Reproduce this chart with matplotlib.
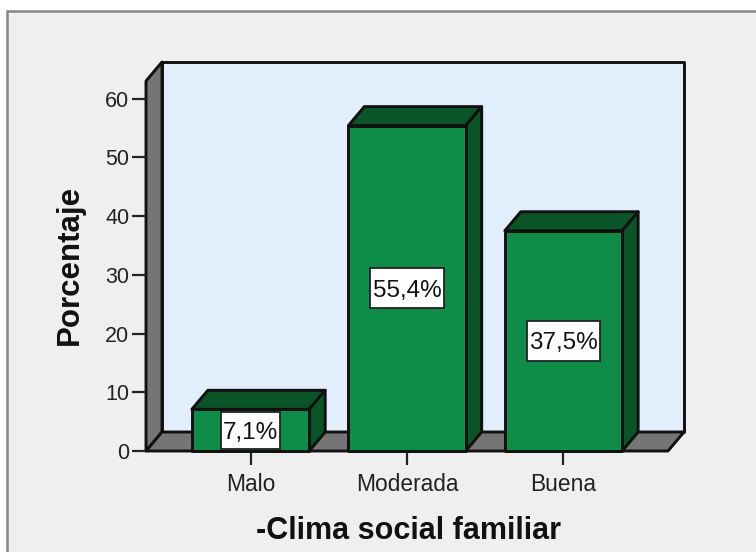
import matplotlib
matplotlib.use("Agg")
import matplotlib.pyplot as plt
from matplotlib.patches import Polygon, Rectangle

# values
categories = ["Malo", "Moderada", "Buena"]
percentages = [7.1, 55.4, 37.5]
bar_labels = ["7,1%", "55,4%", "37,5%"]
y_ticks = [0, 10, 20, 30, 40, 50, 60]

# colours
PAGE = "#EFEFEF"
WALL = "#E2EEFB"
GREY = "#757575"
FRONT = "#0F8C48"
SHADE = "#0A5528"
EDGE = "#101010"

plt.rcParams["font.family"] = ["Liberation Sans", "DejaVu Sans"]

W, H = 756, 552
fig = plt.figure(figsize=(W / 100, H / 100), dpi=100, facecolor="white")

# outer frame runs off the right and bottom of the picture
fig.add_artist(Rectangle((7 / W, -0.05), 1.05, 1.05 - 11 / H, transform=fig.transFigure,
                         facecolor=PAGE, edgecolor="#858585", linewidth=1.8, zorder=-5))

ax = fig.add_axes([146 / W, (H - 451) / H, 522 / W, 370 / H])
ax.patch.set_visible(False)
x_min, x_max = -0.668, 2.668
y_max = 63
ax.set_xlim(x_min, x_max)
ax.set_ylim(0, y_max)

# depth of the 3D effect in data units
dx = 16 / (522 / (x_max - x_min))
dy = 19 / (370 / y_max)
bar_w = 0.75


def poly(points, color, z=1, lw=2.1):
    ax.add_patch(Polygon(points, closed=True, facecolor=color, edgecolor=EDGE,
                         linewidth=lw, joinstyle="round", clip_on=False, zorder=z))


# back wall, side wall, floor
poly([(x_min + dx, dy), (x_max + dx, dy), (x_max + dx, y_max + dy), (x_min + dx, y_max + dy)], WALL)
poly([(x_min, 0), (x_min + dx, dy), (x_min + dx, y_max + dy), (x_min, y_max)], GREY)
poly([(x_min, 0), (x_max, 0), (x_max + dx, dy), (x_min + dx, dy)], GREY)

# bars
for i, val in enumerate(percentages):
    l, r = i - bar_w / 2, i + bar_w / 2
    poly([(l, val), (r, val), (r + dx, val + dy), (l + dx, val + dy)], SHADE, z=3)
    poly([(r, 0), (r + dx, dy), (r + dx, val + dy), (r, val)], SHADE, z=3)
    poly([(l, 0), (r, 0), (r, val), (l, val)], FRONT, z=4)
    # white label box, sized to the text and kept inside the bar
    box_w = 0.094 * len(bar_labels[i])
    box_h = min(6.8, val * 0.89)
    ax.add_patch(Rectangle((i - box_w / 2, val / 2 - box_h / 2), box_w, box_h, facecolor="white",
                           edgecolor="#222222", linewidth=1.3, zorder=5))
    ax.text(i, val / 2, bar_labels[i], ha="center", va="center_baseline", fontsize=17.5,
            color="#111111", zorder=6)

for side in ["top", "right", "bottom", "left"]:
    ax.spines[side].set_visible(False)

ax.set_xticks(range(len(categories)))
ax.set_xticklabels(categories)
ax.set_yticks(y_ticks)
ax.tick_params(axis="both", length=10, width=1.6, color="#222222", labelcolor="#222222")
ax.tick_params(axis="x", labelsize=16.4, pad=6)
ax.tick_params(axis="y", labelsize=15.5, pad=2)

fig.text(408 / W, 1 - 531 / H, "-Clima social familiar", ha="center", va="center",
         fontsize=22, fontweight="bold", color="#111111")
fig.text(70 / W, 1 - 265 / H, "Porcentaje", ha="center", va="center", rotation=90,
         fontsize=22.5, fontweight="bold", color="#111111")

fig.savefig("out.png", dpi=100)
